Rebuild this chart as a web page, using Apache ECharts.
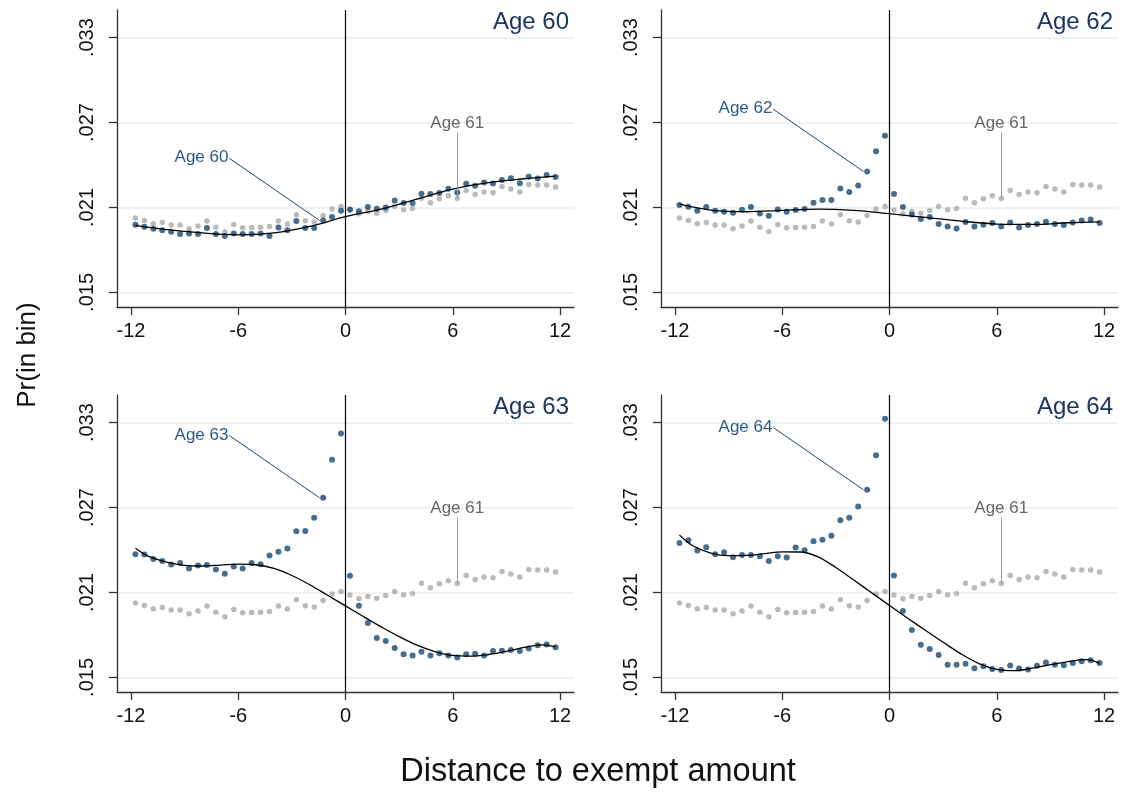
<!DOCTYPE html>
<html>
<head>
<meta charset="utf-8">
<script src="https://cdn.jsdelivr.net/npm/echarts@6/dist/echarts.min.js"></script>
<style>
html,body{margin:0;padding:0;background:#fff;}
#chart{width:1122px;height:793px;}
</style>
</head>
<body>
<div id="chart"></div>
<script>
// ---------- data ----------
const xBins = [-11.75,-11.25,-10.75,-10.25,-9.75,-9.25,-8.75,-8.25,-7.75,-7.25,-6.75,-6.25,
  -5.75,-5.25,-4.75,-4.25,-3.75,-3.25,-2.75,-2.25,-1.75,-1.25,-0.75,-0.25,
  0.25,0.75,1.25,1.75,2.25,2.75,3.25,3.75,4.25,4.75,5.25,5.75,
  6.25,6.75,7.25,7.75,8.25,8.75,9.25,9.75,10.25,10.75,11.25,11.75];

const age61 = [0.02025,0.02008,0.01985,0.01994,0.01976,0.01976,0.0195,0.01969,0.02004,0.01961,0.01929,0.0198,
  0.01957,0.01959,0.01961,0.01965,0.02004,0.01983,0.02048,0.02006,0.01997,0.02044,0.02089,0.02107,
  0.02082,0.02056,0.02072,0.0206,0.02079,0.02107,0.02084,0.02093,0.02166,0.02133,0.02161,0.02183,
  0.02164,0.0222,0.02192,0.02209,0.02204,0.02248,0.0223,0.02209,0.02262,0.02258,0.02258,0.02244];

const age60 = [0.01978,0.01964,0.0195,0.0194,0.01929,0.01912,0.01917,0.01912,0.01955,0.01912,0.01898,0.01917,
  0.01912,0.01912,0.01917,0.01898,0.01959,0.0194,0.02004,0.01955,0.01955,0.02008,0.02032,0.02077,
  0.02086,0.02074,0.02103,0.02091,0.021,0.02149,0.02131,0.02131,0.02197,0.02195,0.02202,0.02232,
  0.02206,0.02267,0.02253,0.02276,0.02269,0.02295,0.02307,0.02272,0.02317,0.02305,0.02329,0.02315];

const age62 = [0.02117,0.02105,0.02077,0.02103,0.02077,0.0207,0.02063,0.02084,0.02103,0.02058,0.02041,0.02086,
  0.0207,0.02082,0.02089,0.02133,0.02152,0.02152,0.02234,0.02209,0.02255,0.02354,0.02498,0.02606,
  0.02195,0.02103,0.02051,0.02018,0.02032,0.01983,0.01966,0.01952,0.01997,0.01966,0.01978,0.0199,
  0.01966,0.01994,0.01959,0.01976,0.01983,0.01999,0.01983,0.01976,0.01994,0.02008,0.02015,0.0199];

const age63 = [0.0237,0.02368,0.02337,0.02323,0.02297,0.02309,0.02269,0.0229,0.02295,0.02262,0.02232,0.02283,
  0.02269,0.02309,0.023,0.02361,0.02387,0.0241,0.02532,0.02534,0.02628,0.02769,0.03037,0.03223,
  0.02218,0.02006,0.01884,0.01779,0.01758,0.01708,0.01663,0.01654,0.01682,0.01654,0.0167,0.01654,
  0.0164,0.01663,0.01668,0.01654,0.01687,0.01689,0.01694,0.01687,0.01704,0.01727,0.01732,0.01713];

const age64 = [0.0245,0.02469,0.02396,0.0242,0.0237,0.02385,0.02349,0.02365,0.02365,0.02356,0.02323,0.02356,
  0.02347,0.02417,0.02399,0.02462,0.02473,0.02501,0.0261,0.02628,0.02708,0.02825,0.0307,0.03328,
  0.0222,0.01969,0.01835,0.0173,0.01701,0.01659,0.01589,0.01589,0.01596,0.01565,0.01579,0.0156,
  0.01553,0.01584,0.01563,0.01556,0.01582,0.01605,0.01589,0.01586,0.01601,0.01614,0.01621,0.01601];

// fitted curves at these x positions
const fit60X = [-11.75,-10,-8,-6,-4,-2,0,2,4,6,8,10,11.75];
const fit60  = [0.01973,0.01943,0.0192,0.01907,0.0192,0.01966,0.02035,0.02089,0.02159,0.0223,0.02276,0.02303,0.02322];
const fit62X = [-11.75,-10,-8,-6,-4,-2,0,2,4,6,8,10,11.75];
const fit62  = [0.02124,0.02082,0.0207,0.0208,0.02089,0.0208,0.02056,0.0203,0.02004,0.01983,0.0198,0.01992,0.01998];
const fit63X = [-11.75,-11,-10,-9,-8,-7,-6,-5,-4,-3,-2,-1,0,1,2,3,4,5,6,7,8,9,10,11,11.75];
const fit63  = [0.02413,0.02355,0.02315,0.02292,0.02287,0.02293,0.02301,0.02296,0.0227,0.0222,0.02155,0.0208,0.02005,
  0.0193,0.01857,0.01788,0.01728,0.01683,0.01655,0.0165,0.01662,0.01684,0.01712,0.0173,0.01715];
const fit64X = [-11.75,-11,-10,-9,-8,-7,-6,-5,-4,-3,-2,-1,0,1,2,3,4,5,6,7,8,9,10,11,11.75];
const fit64  = [0.02506,0.0243,0.02378,0.0236,0.02362,0.02374,0.02387,0.02386,0.02352,0.02276,0.02188,0.02098,0.02008,
  0.0192,0.01833,0.01748,0.01666,0.01598,0.01557,0.01548,0.01565,0.0159,0.01612,0.01625,0.01601];

const xTicks = [-12,-6,0,6,12];
const yTicks = [0.015,0.021,0.027,0.033];
const panelNames = ['Age 60','Age 62','Age 63','Age 64'];
const refName = 'Age 61';
const xTitle = 'Distance to exempt amount';
const yTitle = 'Pr(in bin)';

// ---------- layout / style ----------
const panels = [
  {vals: age60, fx: fit60X, fit: fit60, left: 117, top: 10},
  {vals: age62, fx: fit62X, fit: fit62, left: 661, top: 10},
  {vals: age63, fx: fit63X, fit: fit63, left: 117, top: 395},
  {vals: age64, fx: fit64X, fit: fit64, left: 661, top: 395}
];
const W = 457, H = 297;
const FONT = '"Liberation Sans", Arial, Helvetica, sans-serif';
const BLUE = '#1a476f';
const GREY = '#a9a9a9';
const AXIS = '#333333';

const chart = echarts.init(document.getElementById('chart'), null, {renderer: 'canvas'});

const grids = [], xAxes = [], yAxes = [], series = [], titles = [];
panels.forEach((p, i) => {
  grids.push({left: p.left, top: p.top, width: W, height: H, containLabel: false});
  xAxes.push({
    type: 'value', gridIndex: i, min: -12.78, max: 12.78,
    axisLine: {show: true, onZero: false, lineStyle: {color: AXIS, width: 1.3}},
    axisTick: {show: true, length: 8, customValues: xTicks, lineStyle: {color: AXIS, width: 1.3}},
    axisLabel: {customValues: xTicks, fontSize: 20, color: '#111', fontFamily: FONT, margin: 14},
    splitLine: {show: false}
  });
  yAxes.push({
    type: 'value', gridIndex: i, min: 0.01397, max: 0.03495,
    axisLine: {show: true, onZero: false, lineStyle: {color: AXIS, width: 1.3}},
    axisTick: {show: true, length: 8, customValues: yTicks, lineStyle: {color: AXIS, width: 1.3}},
    axisLabel: {customValues: yTicks, rotate: 90, fontSize: 20, color: '#111', fontFamily: FONT, margin: 20,
      formatter: v => v.toFixed(3).replace(/^0/, '')},
    splitLine: {show: true, lineStyle: {color: '#e7eef1', width: 1.6}}
  });
  titles.push({
    text: panelNames[i],
    right: 1122 - (p.left + W) + 5, top: p.top, padding: 0,
    textStyle: {fontSize: 24, fontWeight: 'normal', color: '#1c3461', fontFamily: FONT}
  });
  const refIdx = xBins.indexOf(6.25);
  const peakIdx = xBins.indexOf(-1.25);
  series.push({
    type: 'scatter', xAxisIndex: i, yAxisIndex: i, z: 2,
    symbol: 'circle', symbolSize: 5.5, itemStyle: {color: GREY},
    data: xBins.map((x, j) => [x, age61[j]]),
    markLine: {
      silent: true, symbol: ['none', 'none'], animation: false,
      data: [
        {xAxis: 0, lineStyle: {color: '#000', width: 1.2, type: 'solid'}, label: {show: false}},
        [
          {coord: [6.25, age61[refIdx]], lineStyle: {color: '#9a9a9a', width: 1, type: 'solid'},
           label: {show: true, position: 'end', formatter: refName, color: '#666', fontSize: 17, fontFamily: FONT, distance: 1}},
          {coord: [6.25, 0.0263]}
        ]
      ]
    }
  });
  series.push({
    type: 'scatter', xAxisIndex: i, yAxisIndex: i, z: 3,
    symbol: 'circle', symbolSize: 6, itemStyle: {color: BLUE},
    data: xBins.map((x, j) => [x, p.vals[j]]),
    markLine: {
      silent: true, symbol: ['none', 'none'], animation: false,
      data: [
        [
          {coord: [-1.45, p.vals[peakIdx]], lineStyle: {color: BLUE, width: 1, type: 'solid'},
           label: {show: true, position: 'end', formatter: panelNames[i], color: '#2b5a88', fontSize: 17,
                   fontFamily: FONT, distance: 1, align: 'right', verticalAlign: 'middle'}},
          {coord: [-6.5, p.vals[peakIdx] + 0.0044]}
        ]
      ]
    }
  });
  series.push({
    type: 'line', xAxisIndex: i, yAxisIndex: i, z: 4,
    smooth: 0.35, showSymbol: false, symbol: 'none',
    lineStyle: {color: '#000', width: 1.3},
    data: p.fx.map((x, j) => [x, p.fit[j]])
  });
});

chart.setOption({
  animation: false,
  backgroundColor: '#fff',
  title: titles,
  grid: grids,
  xAxis: xAxes,
  yAxis: yAxes,
  series: series,
  graphic: [
    {type: 'text', x: 28, y: 355, rotation: Math.PI / 2,
     style: {text: yTitle, fontSize: 26, fontFamily: FONT, fill: '#111', textAlign: 'center', textVerticalAlign: 'middle'}},
    {type: 'text', x: 598, y: 772,
     style: {text: xTitle, fontSize: 32.5, fontFamily: FONT, fill: '#111', textAlign: 'center', textVerticalAlign: 'middle'}}
  ]
});
</script>
</body>
</html>
